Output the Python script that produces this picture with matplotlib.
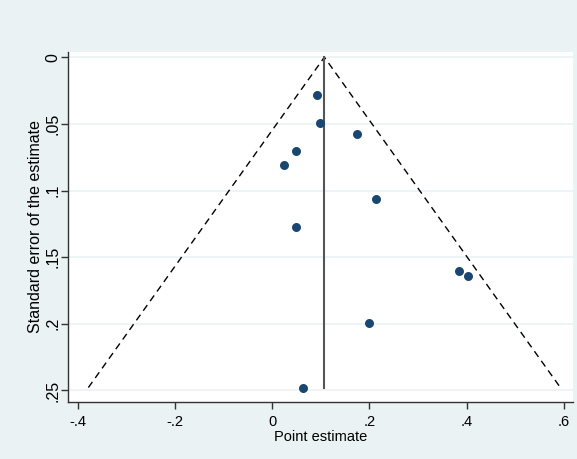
import numpy as np
import matplotlib.pyplot as plt

plt.rcParams['font.family'] = ['Liberation Sans', 'DejaVu Sans']

# effect estimates and their standard errors
est = [0.093, 0.098, 0.174, 0.049, 0.025, 0.213, 0.049, 0.384, 0.404, 0.200, 0.063]
se = [0.0285, 0.049, 0.0578, 0.070, 0.081, 0.1066, 0.1277, 0.160, 0.1643, 0.1993, 0.2478]
pooled = 0.1074
xticks = [-0.4, -0.2, 0, 0.2, 0.4, 0.6]
xtick_labels = ['-.4', '-.2', '0', '.2', '.4', '.6']
yticks = [0, 0.05, 0.1, 0.15, 0.2, 0.25]
ytick_labels = ['0', '.05', '.1', '.15', '.2', '.25']

bg = '#EAF2F3'
fig = plt.figure(figsize=(5.77, 4.59), dpi=100, facecolor=bg)
ax = fig.add_axes([0.118, 0.124, 0.875, 0.763])
ax.set_facecolor('white')

for y in yticks:
    ax.axhline(y, color=bg, lw=1.2, zorder=0)

# funnel limits
se_max = max(se)
ax.plot([pooled - 1.96 * se_max, pooled, pooled + 1.96 * se_max], [se_max, 0, se_max],
        color='black', lw=1.0, dashes=(5, 3.5), zorder=2)
ax.plot([pooled, pooled], [0, se_max], color='#555555', lw=1.5, zorder=2)

ax.scatter(est, se, s=42, color='#1A476F', zorder=3, linewidths=0)

ax.set_xlim(-0.42, 0.619)
ax.set_ylim(0.2587, -0.004)
ax.set_xticks(xticks)
ax.set_xticklabels(xtick_labels)
ax.set_yticks(yticks)
ax.set_yticklabels(ytick_labels, rotation=90, va='center')
ax.tick_params(axis='both', direction='out', length=5, width=1, color='#333333')
ax.tick_params(axis='x', pad=4, labelsize=10.5)
ax.tick_params(axis='y', pad=0.5, labelsize=11.5)

for s in ['top', 'right']:
    ax.spines[s].set_visible(False)
for s in ['left', 'bottom']:
    ax.spines[s].set_color('#333333')
    ax.spines[s].set_linewidth(1)

ax.set_xlabel('Point estimate', fontsize=10.5, labelpad=1)
ax.set_ylabel('Standard error of the estimate', fontsize=11.5, labelpad=2)

fig.savefig('out.png', dpi=100, facecolor=bg)
